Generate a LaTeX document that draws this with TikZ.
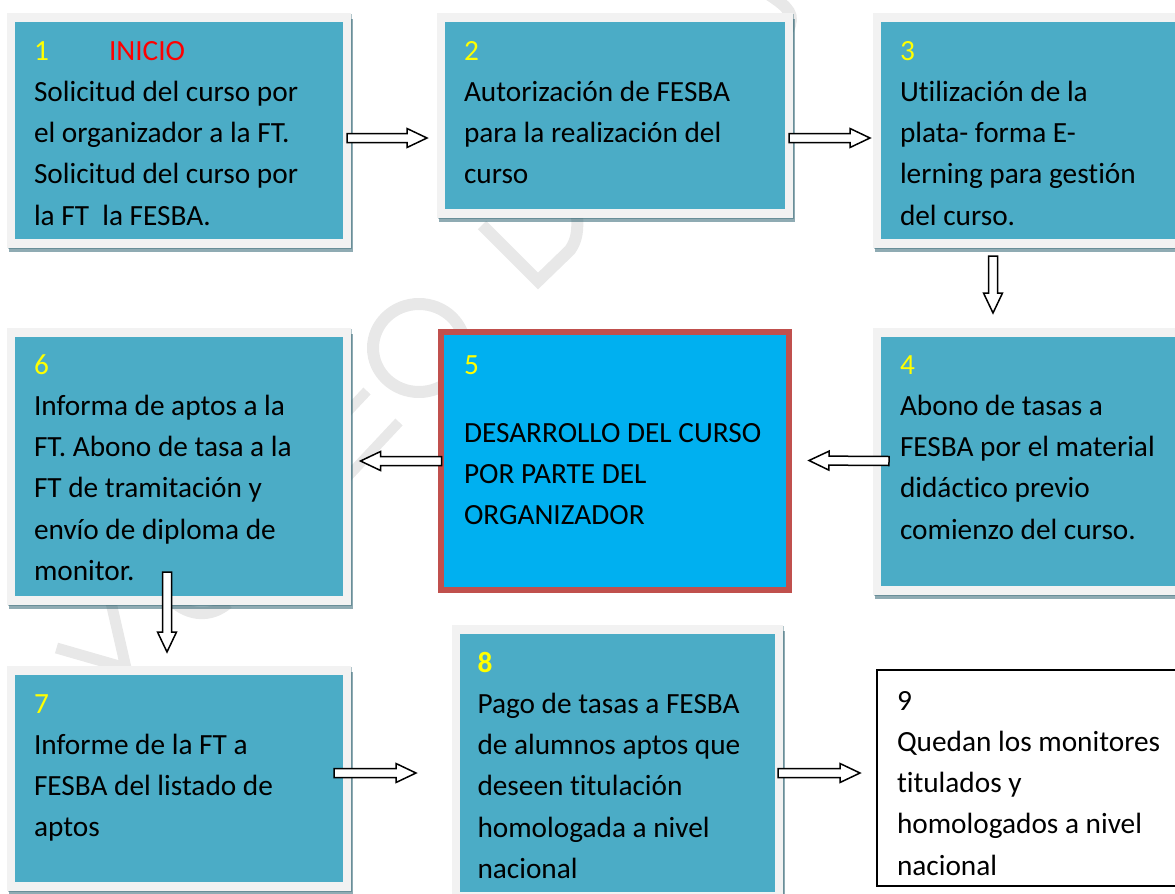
\documentclass[tikz,border=0pt]{standalone}
\usepackage{fontspec}
\setmainfont{Carlito}[Ligatures=NoCommon]
\usetikzlibrary{calc,backgrounds}
\definecolor{tealfill}{HTML}{4BACC6}
\definecolor{framefill}{HTML}{F2F2F2}
\definecolor{shadowfill}{HTML}{205867}
\definecolor{skyfill}{HTML}{00B0F0}
\definecolor{redline}{HTML}{C0504D}
\definecolor{markgray}{HTML}{E8E8E8}
\definecolor{numyellow}{HTML}{FFFF00}
\tikzset{
  x=1bp,y=-1bp,
  basebox/.style={anchor=north west,inner sep=0pt,outer sep=0pt,
    font=\fontsize{29.3bp}{41.3bp}\selectfont,text=black},
  tealbox/.style={basebox,fill=tealfill},
  redbox/.style={basebox,fill=skyfill},
  whitebox/.style={basebox,fill=white},
  arrowline/.style={draw=black,fill=white,line width=1.5bp,line join=miter,miter limit=10},
  markstroke/.style={draw=markgray,line width=12bp,line cap=butt,line join=miter},
}
% box content: width, height, top offset, left offset, text
\newcommand\boxtext[5]{\begin{minipage}[c][#2bp][t]{#1bp}\raggedright\leftskip=#4bp\relax\vspace*{#3bp}\strut #5\end{minipage}}
\newcommand\nm[1]{\textcolor{numyellow}{#1}}
% soft frame and shadow round a teal node
\newcommand\softframe[1]{%
  \fill[shadowfill,opacity=.5] ($(#1.north west)+(-6,-3)$) rectangle ($(#1.south east)+(10,13)$);
  \fill[shadowfill,opacity=.35] ($(#1.north west)+(-7,-8)$) rectangle ($(#1.south east)+(9,9.5)$);
  \fill[framefill] ($(#1.north west)+(-8,-9)$) rectangle ($(#1.south east)+(8,8.5)$);
}
\newcommand\blockarrow[2]{%
  \coordinate (nk) at ($(#2)!20bp!(#1)$);
  \draw[arrowline] ($(#1)!4.5bp!90:(#2)$) -- ($(nk)!4.5bp!90:(#2)$) -- ($(nk)!9.5bp!90:(#2)$) -- (#2)
    -- ($(nk)!9.5bp!-90:(#2)$) -- ($(nk)!4.5bp!-90:(#2)$) -- ($(#1)!4.5bp!-90:(#2)$) -- cycle;
}
\begin{document}
\begin{tikzpicture}
\useasboundingbox (0,0) rectangle (1175,894);

\node[tealbox] (b1) at (15,22) {\boxtext{328}{217}{9.09}{19}{\makebox[75bp][l]{\nm{1}}\textcolor{red}{INICIO}\\
Solicitud del curso por\\el organizador a la FT.\\Solicitud del curso por\\la FT\ \ la FESBA.}};
\node[tealbox] (b2) at (445,22) {\boxtext{340}{187}{9.09}{19}{\nm{2}\\
Autorización de FESBA\\para la realización del\\curso}};
\node[tealbox] (b3) at (881,22) {\boxtext{294}{217}{9.09}{19}{\nm{3}\\
Utilización de la\\plata- forma E-\\lerning para gestión\\del curso.}};
\node[tealbox] (b4) at (881,337) {\boxtext{294}{249}{8.09}{19}{\nm{4}\\
Abono de tasas a\\FESBA por el material\\didáctico previo\\comienzo del curso.}};
\node[redbox] (b5) at (443.5,335) {\boxtext{342.5}{252}{10.09}{20.5}{\nm{5}\\[26.7bp]
DESARROLLO DEL CURSO\\POR PARTE DEL\\ORGANIZADOR}};
\node[tealbox] (b6) at (15,337) {\boxtext{328}{259}{8.09}{19}{\nm{6}\\
Informa de aptos a la\\FT. Abono de tasa a la\\FT de tramitación y\\envío de diploma de\\monitor.}};
\node[tealbox] (b7) at (15,675) {\boxtext{328}{207}{9.09}{19}{\nm{7}\\
Informe de la FT a\\FESBA del listado de\\aptos}};
\node[tealbox] (b8) at (459.5,634) {\boxtext{315.5}{258}{9.09}{18}{\textbf{\nm{8}}\\
Pago de tasas a FESBA\\de alumnos aptos que\\deseen titulación\\homologada a nivel\\nacional}};
\node[whitebox,draw=black,line width=1.5bp] (b9) at (877,670) {\boxtext{300}{216}{11.09}{20}{9\\
Quedan los monitores\\titulados y\\homologados a nivel\\nacional}};

\begin{scope}[on background layer]
  \clip (0,0) rectangle (1175,894);
  % watermark fragments
  \draw[markstroke] (419,348) ellipse [x radius=46,y radius=44];
  \draw[markstroke,line width=10bp] (367,391) -- (335,425);
  \draw[markstroke,line width=10bp] (399,422) -- (340,485);
  \draw[markstroke] (482,225) -- (538,281) -- (570,250) .. controls (577,240) and (578,230) .. (577,215);
  \draw[markstroke] (768,-6) .. controls (790,8) and (795,15) .. (788,30);
  \draw[markstroke,line width=11bp] (56.5,648) -- (126,668) -- (110,598);
  \draw[markstroke] (175,603) .. controls (190,615) and (210,618) .. (228,603);
  % soft frames
  \softframe{b1}
  \softframe{b2}
  \softframe{b3}
  \softframe{b4}
  \softframe{b6}
  \softframe{b7}
  \softframe{b8}
  % red frame of step 5
  \draw[redline,line width=6bp] ($(b5.north west)+(-2.5,-3)$) rectangle ($(b5.south east)+(3,3)$);
\end{scope}

\coordinate (a1s) at ($(b1.east)+(4,7.5)$);
\coordinate (a1e) at ($(b2.west)+(-18,22.5)$);
\blockarrow{a1s}{a1e}
\coordinate (a2s) at ($(b2.east)+(4,22.5)$);
\coordinate (a2e) at ($(b3.west)+(-11,7.5)$);
\blockarrow{a2s}{a2e}
\coordinate (a3s) at ($(b3.south)+(-35,17)$);
\coordinate (a3e) at ($(b4.north)+(-35,-24)$);
\blockarrow{a3s}{a3e}
\coordinate (a4s) at ($(b4.west)+(8,-0.5)$);
\coordinate (a4e) at ($(b5.east)+(23,-0.5)$);
\blockarrow{a4s}{a4e}
\coordinate (a5s) at ($(b5.west)+(-2,0)$);
\coordinate (a5e) at ($(b6.east)+(17.5,-5.5)$);
\blockarrow{a5s}{a5e}
\coordinate (a6s) at ($(b6.south)+(-12,-24)$);
\coordinate (a6e) at ($(b7.north)+(-12,-23)$);
\blockarrow{a6s}{a6e}
\coordinate (a7s) at ($(b7.east)+(-9,-5.5)$);
\coordinate (a7e) at ($(b8.west)+(-43.5,10)$);
\blockarrow{a7s}{a7e}
\coordinate (a8s) at ($(b8.east)+(3,10)$);
\coordinate (a8e) at ($(b9.west)+(-17,-5)$);
\blockarrow{a8s}{a8e}
\end{tikzpicture}
\end{document}
